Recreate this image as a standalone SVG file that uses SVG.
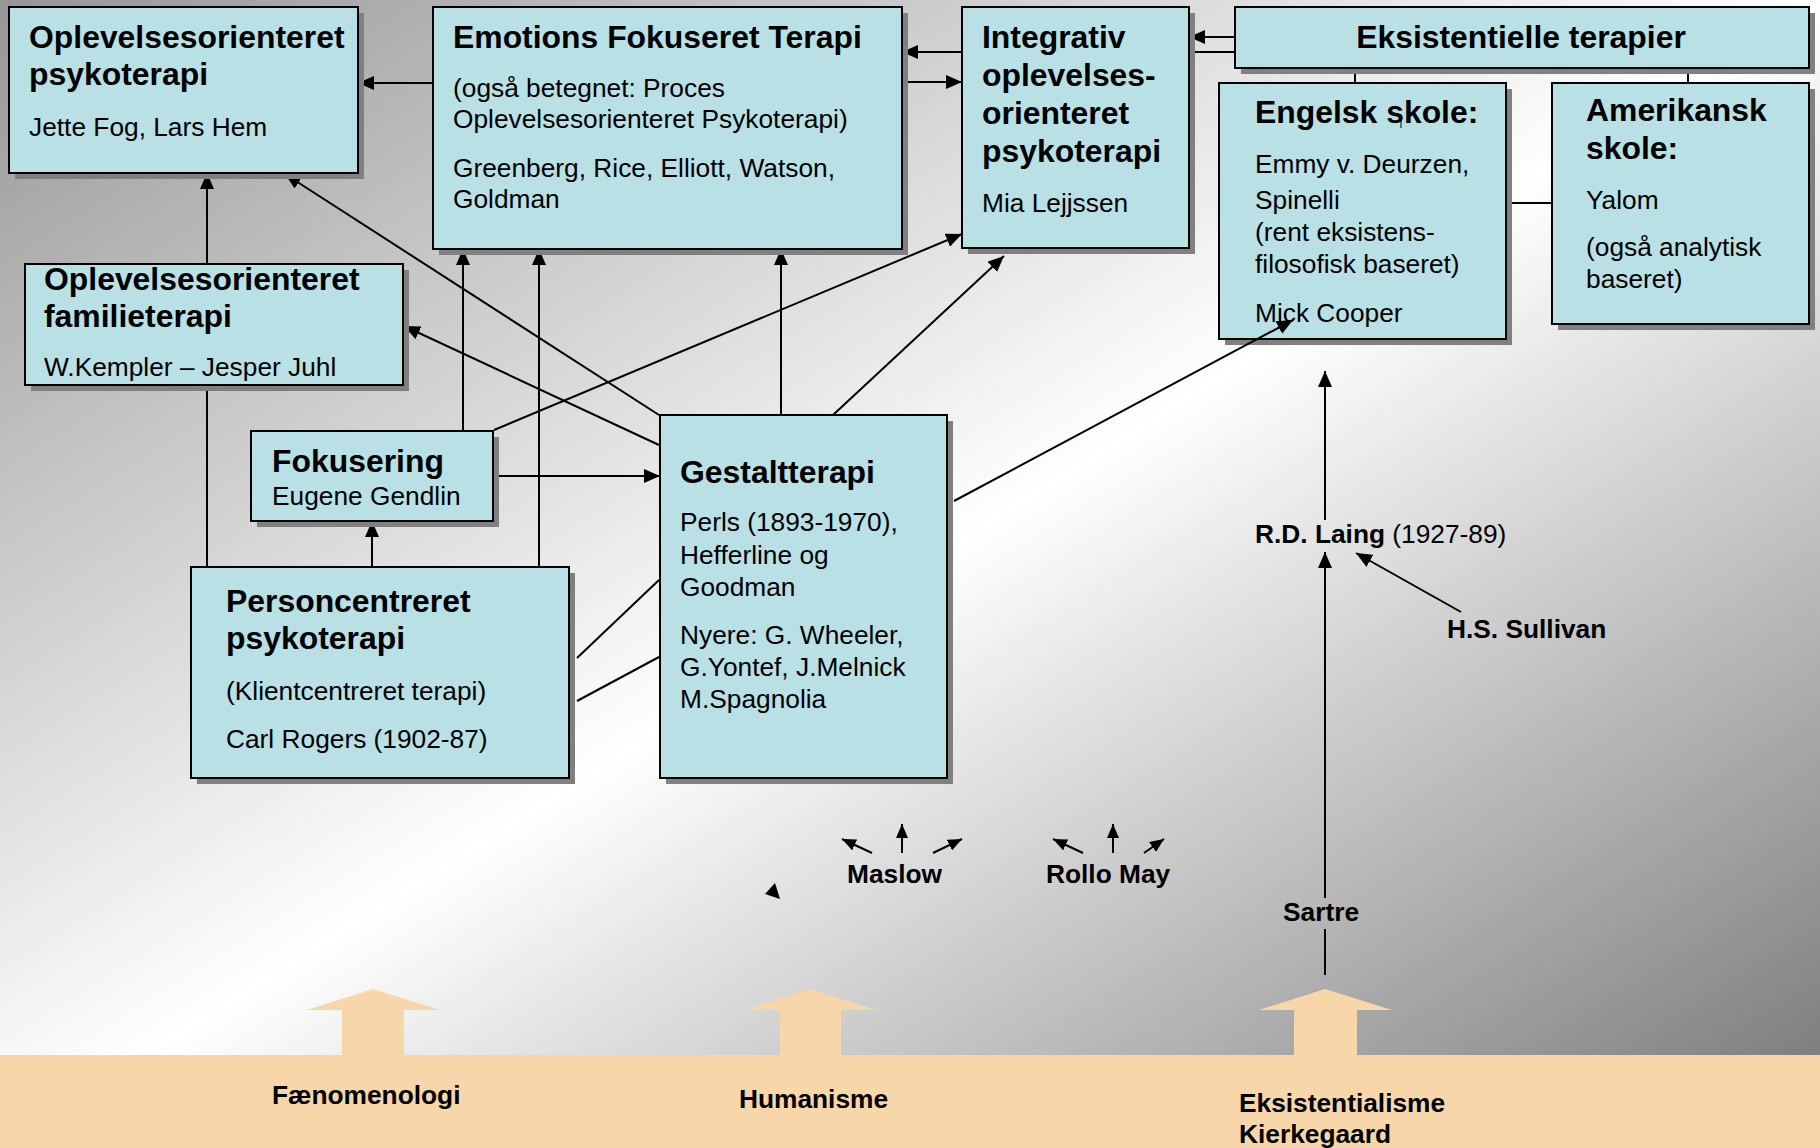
<svg xmlns="http://www.w3.org/2000/svg" width="1820" height="1148" viewBox="0 0 1820 1148">
<defs>
<linearGradient id="bg" x1="0" y1="0" x2="1" y2="1">
<stop offset="0" stop-color="#969696"/>
<stop offset="0.5" stop-color="#ffffff"/>
<stop offset="1" stop-color="#747474"/>
</linearGradient>
<marker id="ah" viewBox="0 0 16 14" refX="16" refY="7" markerWidth="16" markerHeight="14" markerUnits="userSpaceOnUse" orient="auto"><path d="M0,0 L16,7 L0,14 z" fill="#000"/></marker>
<marker id="as" viewBox="0 0 14 12" refX="14" refY="6" markerWidth="14" markerHeight="12" markerUnits="userSpaceOnUse" orient="auto"><path d="M0,0 L14,6 L0,12 z" fill="#000"/></marker>
<style>
.box{fill:#B9E0E4;stroke:#000;stroke-width:2}
.sh{fill:#808080}
.t{font-family:"Liberation Sans",Arial,sans-serif;font-size:26.3px;fill:#000}
.b{font-weight:bold;font-size:31.9px}
.lb{font-weight:bold;font-size:26.3px}
.c{stroke:#000;stroke-width:2;fill:none}
.a{marker-end:url(#ah)}
.s{marker-end:url(#as)}
.peach{fill:#F7D6A9}
</style>
</defs>
<rect x="0" y="0" width="1820" height="1148" fill="url(#bg)"/>
<g id="base">
<rect class="peach" x="0" y="1055" width="1820" height="93"/>
<polygon class="peach" points="373,989 440,1010 404,1010 404,1056 342,1056 342,1010 307,1010"/>
<polygon class="peach" points="810,989 876,1010 841,1010 841,1056 780,1056 780,1010 745,1010"/>
<polygon class="peach" points="1325,989 1392,1010 1357,1010 1357,1056 1294,1056 1294,1010 1259,1010"/>
</g>
<g id="connectors">
<line class="c a" x1="433" y1="83" x2="358" y2="83"/>
<line class="c a" x1="207" y1="567" x2="207" y2="173"/>
<line class="c a" x1="659" y1="415" x2="285" y2="174"/>
<line class="c a" x1="659" y1="445" x2="404" y2="326"/>
<line class="c a" x1="463" y1="431" x2="463" y2="249"/>
<line class="c a" x1="539" y1="567" x2="539" y2="249"/>
<line class="c a" x1="372" y1="567" x2="372" y2="521"/>
<line class="c a" x1="781" y1="415" x2="781" y2="249"/>
<line class="c a" x1="494" y1="430" x2="962" y2="234"/>
<line class="c a" x1="833" y1="415" x2="1004" y2="256"/>
<line class="c a" x1="493" y1="476" x2="660" y2="476"/>
<line class="c" x1="577" y1="658" x2="659" y2="580"/>
<line class="c" x1="577" y1="701" x2="659" y2="657"/>
<line class="c a" x1="1235" y1="37" x2="1189" y2="37"/>
<line class="c" x1="1189" y1="52" x2="1235" y2="52"/>
<line class="c a" x1="962" y1="52" x2="902" y2="52"/>
<line class="c a" x1="902" y1="82" x2="962" y2="82"/>
<line class="c" x1="1355" y1="68" x2="1355" y2="83"/>
<line class="c" x1="1688" y1="68" x2="1688" y2="83"/>
<line class="c" x1="1506" y1="203" x2="1552" y2="203"/>
<line class="c a" x1="1325" y1="520" x2="1325" y2="371"/>
<line class="c a" x1="1325" y1="898" x2="1325" y2="552"/>
<line class="c" x1="1325" y1="929" x2="1325" y2="975"/>
<line class="c a" x1="1461" y1="612" x2="1356" y2="553"/>
<line class="c s" x1="872" y1="853" x2="842" y2="839"/>
<line class="c s" x1="902" y1="853" x2="902" y2="824"/>
<line class="c s" x1="933" y1="853" x2="962" y2="839"/>
<line class="c s" x1="1083" y1="853" x2="1053" y2="839"/>
<line class="c s" x1="1113" y1="853" x2="1113" y2="824"/>
<line class="c s" x1="1144" y1="853" x2="1164" y2="839"/>
<polygon points="765,894 780,899 775,883" fill="#000"/>
</g>
<g id="n-oplevelses">
<rect class="sh" x="15" y="13" width="349" height="166"/>
<rect class="box" x="9" y="7" width="349" height="166"/>
<text class="t b" x="29" y="48">Oplevelsesorienteret</text>
<text class="t b" x="29" y="85">psykoterapi</text>
<text class="t" x="29" y="136">Jette Fog, Lars Hem</text>
</g>
<g id="n-eft">
<rect class="sh" x="439" y="13" width="469" height="242"/>
<rect class="box" x="433" y="7" width="469" height="242"/>
<text class="t b" x="453" y="48">Emotions Fokuseret Terapi</text>
<text class="t" x="453" y="97">(også betegnet: Proces</text>
<text class="t" x="453" y="128">Oplevelsesorienteret Psykoterapi)</text>
<text class="t" x="453" y="177">Greenberg, Rice, Elliott, Watson,</text>
<text class="t" x="453" y="208">Goldman</text>
</g>
<g id="n-integrativ">
<rect class="sh" x="968" y="13" width="227" height="241"/>
<rect class="box" x="962" y="7" width="227" height="241"/>
<text class="t b" x="982" y="48">Integrativ</text>
<text class="t b" x="982" y="86">oplevelses-</text>
<text class="t b" x="982" y="124">orienteret</text>
<text class="t b" x="982" y="162">psykoterapi</text>
<text class="t" x="982" y="212">Mia Lejjssen</text>
</g>
<g id="n-eksistentielle">
<rect class="sh" x="1241" y="13" width="574" height="61"/>
<rect class="box" x="1235" y="7" width="574" height="61"/>
<text class="t b" x="1521" y="48" text-anchor="middle">Eksistentielle terapier</text>
</g>
<g id="n-engelsk">
<rect class="sh" x="1225" y="89" width="287" height="256"/>
<rect class="box" x="1219" y="83" width="287" height="256"/>
<text class="t b" x="1255" y="123">Engelsk skole:</text>
<line x1="1401" y1="114" x2="1401" y2="128" stroke="#000" stroke-width="1"/>
<text class="t" x="1255" y="173">Emmy v. Deurzen,</text>
<text class="t" x="1255" y="209">Spinelli</text>
<text class="t" x="1255" y="241">(rent eksistens-</text>
<text class="t" x="1255" y="273">filosofisk baseret)</text>
<text class="t" x="1255" y="322">Mick Cooper</text>
</g>
<g id="n-amerikansk">
<rect class="sh" x="1558" y="89" width="257" height="241"/>
<rect class="box" x="1552" y="83" width="257" height="241"/>
<text class="t b" x="1586" y="121">Amerikansk</text>
<text class="t b" x="1586" y="159">skole:</text>
<text class="t" x="1586" y="209">Yalom</text>
<text class="t" x="1586" y="256">(også analytisk</text>
<text class="t" x="1586" y="288">baseret)</text>
</g>
<g id="n-familie">
<rect class="sh" x="31" y="270" width="378" height="121"/>
<rect class="box" x="25" y="264" width="378" height="121"/>
<text class="t b" x="44" y="290">Oplevelsesorienteret</text>
<text class="t b" x="44" y="327">familieterapi</text>
<text class="t" x="44" y="376">W.Kempler – Jesper Juhl</text>
</g>
<g id="n-fokusering">
<rect class="sh" x="257" y="437" width="242" height="90"/>
<rect class="box" x="251" y="431" width="242" height="90"/>
<text class="t b" x="272" y="472">Fokusering</text>
<text class="t" x="272" y="505">Eugene Gendlin</text>
</g>
<g id="n-personcentreret">
<rect class="sh" x="197" y="573" width="378" height="211"/>
<rect class="box" x="191" y="567" width="378" height="211"/>
<text class="t b" x="226" y="612">Personcentreret</text>
<text class="t b" x="226" y="649">psykoterapi</text>
<text class="t" x="226" y="700">(Klientcentreret terapi)</text>
<text class="t" x="226" y="748">Carl Rogers (1902-87)</text>
</g>
<g id="n-gestalt">
<rect class="sh" x="666" y="421" width="287" height="363"/>
<rect class="box" x="660" y="415" width="287" height="363"/>
<text class="t b" x="680" y="483">Gestaltterapi</text>
<text class="t" x="680" y="531">Perls (1893-1970),</text>
<text class="t" x="680" y="564">Hefferline og</text>
<text class="t" x="680" y="596">Goodman</text>
<text class="t" x="680" y="644">Nyere: G. Wheeler,</text>
<text class="t" x="680" y="676">G.Yontef, J.Melnick</text>
<text class="t" x="680" y="708">M.Spagnolia</text>
</g>
<g id="connectors-front">
<line class="c a" x1="954" y1="501" x2="1293" y2="320"/>
</g>
<g id="labels">
<text class="t lb" x="1255" y="543">R.D. Laing <tspan font-weight="normal">(1927-89)</tspan></text>
<text class="t lb" x="1447" y="638">H.S. Sullivan</text>
<text class="t lb" x="847" y="883">Maslow</text>
<text class="t lb" x="1046" y="883">Rollo May</text>
<text class="t lb" x="1283" y="921">Sartre</text>
<text class="t lb" x="272" y="1104">Fænomenologi</text>
<text class="t lb" x="739" y="1108">Humanisme</text>
<text class="t lb" x="1239" y="1112">Eksistentialisme</text>
<text class="t lb" x="1239" y="1143">Kierkegaard</text>
</g>
</svg>
